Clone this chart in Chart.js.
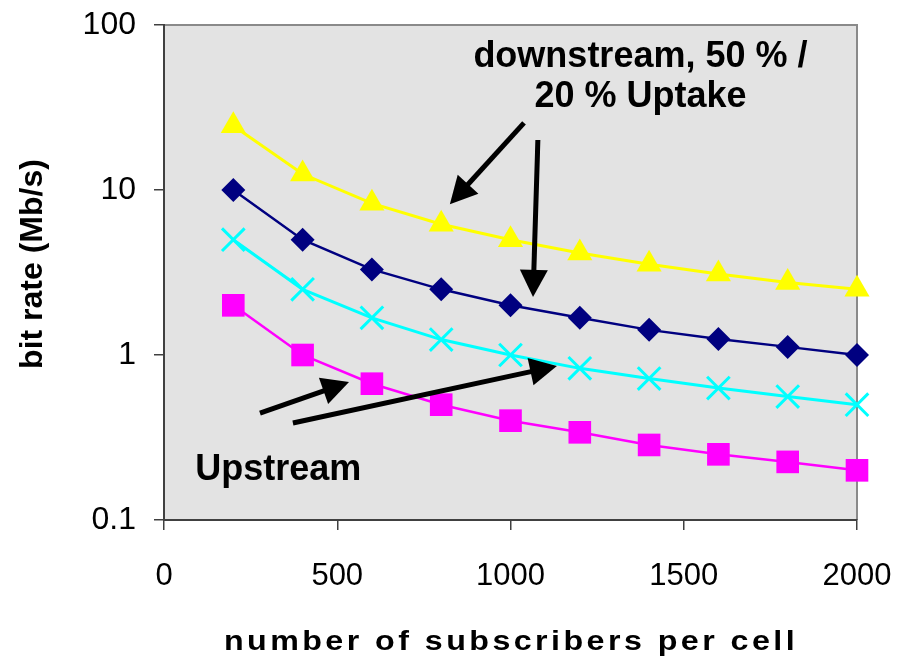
<!DOCTYPE html>
<html>
<head>
<meta charset="utf-8">
<script src="https://cdn.jsdelivr.net/npm/chart.js@4.4.0/dist/chart.umd.min.js"></script>
<style>
  html, body { margin: 0; padding: 0; background: #fff; }
  canvas { display: block; }
</style>
</head>
<body>
<canvas id="chart" width="901" height="662"></canvas>
<script>
// subscribers per cell (x axis)
const subscribers = [200, 400, 600, 800, 1000, 1200, 1400, 1600, 1800, 2000];
// bit rate (Mb/s)
const downstream50 = [24.5, 12.5, 8.3, 6.2, 5.0, 4.15, 3.55, 3.1, 2.75, 2.5];
const downstream20 = [10, 5.0, 3.3, 2.5, 2.0, 1.68, 1.42, 1.25, 1.12, 1.0];
const upstream50 = [5.0, 2.5, 1.68, 1.24, 1.0, 0.83, 0.72, 0.63, 0.56, 0.5];
const upstream20 = [2.0, 1.0, 0.67, 0.5, 0.4, 0.34, 0.285, 0.25, 0.225, 0.2];
const xTicks = [0, 500, 1000, 1500, 2000];
const yTicks = [0.1, 1, 10, 100];

const FONT = '"Liberation Sans", Arial, Helvetica, sans-serif';

// annotations, placed in data units
const notes = [
  { text: 'downstream, 50 % /', x: 1375, y: 56, align: 'center' },
  { text: '20 % Uptake', x: 1375, y: 31.8, align: 'center' },
  { text: 'Upstream', x: 90, y: 0.175, align: 'left' }
];
const arrows = [
  { from: [1039, 25.5], to: [825, 8.2] },
  { from: [1079, 20.1], to: [1065, 2.25] },
  { from: [277, 0.445], to: [534, 0.686] },
  { from: [372, 0.387], to: [1134, 0.858] }
];

function series(values) {
  return subscribers.map((x, i) => ({ x: x, y: values[i] }));
}

// gray plot area with thin frame on top/right
const plotBackground = {
  id: 'plotBackground',
  beforeDraw(chart) {
    const { ctx, chartArea: a } = chart;
    ctx.save();
    ctx.fillStyle = '#e3e3e3';
    ctx.fillRect(a.left, a.top, a.right - a.left, a.bottom - a.top);
    ctx.strokeStyle = '#8a8a8a';
    ctx.lineWidth = 2;
    ctx.beginPath();
    ctx.moveTo(a.left, a.top);
    ctx.lineTo(a.right, a.top);
    ctx.lineTo(a.right, a.bottom);
    ctx.stroke();
    ctx.restore();
  }
};

function drawArrow(ctx, x1, y1, x2, y2) {
  const ang = Math.atan2(y2 - y1, x2 - x1);
  const headLen = 27, headHalf = 14;
  const bx = x2 - Math.cos(ang) * headLen;
  const by = y2 - Math.sin(ang) * headLen;
  ctx.beginPath();
  ctx.moveTo(x1, y1);
  ctx.lineTo(bx + Math.cos(ang) * 4, by + Math.sin(ang) * 4);
  ctx.stroke();
  ctx.beginPath();
  ctx.moveTo(x2, y2);
  ctx.lineTo(bx + Math.sin(ang) * headHalf, by - Math.cos(ang) * headHalf);
  ctx.lineTo(bx - Math.sin(ang) * headHalf, by + Math.cos(ang) * headHalf);
  ctx.closePath();
  ctx.fill();
}

const annotations = {
  id: 'annotations',
  afterDatasetsDraw(chart) {
    const { ctx, scales: { x, y } } = chart;
    ctx.save();
    ctx.strokeStyle = '#000';
    ctx.fillStyle = '#000';
    ctx.lineWidth = 5;
    ctx.lineCap = 'butt';
    arrows.forEach(a => {
      drawArrow(ctx,
        x.getPixelForValue(a.from[0]), y.getPixelForValue(a.from[1]),
        x.getPixelForValue(a.to[0]), y.getPixelForValue(a.to[1]));
    });
    ctx.font = 'bold 36px ' + FONT;
    ctx.textBaseline = 'alphabetic';
    notes.forEach(n => {
      ctx.textAlign = n.align;
      ctx.fillText(n.text, x.getPixelForValue(n.x), y.getPixelForValue(n.y));
    });
    ctx.restore();
  },
  afterDraw(chart) {
    const { ctx } = chart;
    ctx.save();
    ctx.fillStyle = '#000';
    // x axis title: wide, spaced-out lettering like the original
    ctx.save();
    ctx.font = 'bold 28px ' + FONT;
    ctx.letterSpacing = '3px';
    ctx.textAlign = 'center';
    ctx.textBaseline = 'alphabetic';
    ctx.translate(511, 650);
    ctx.scale(1.15, 1);
    ctx.fillText('number of subscribers per cell', 0, 0);
    ctx.restore();
    // y axis title
    ctx.letterSpacing = '0px';
    ctx.font = 'bold 32px ' + FONT;
    ctx.translate(33, 264);
    ctx.rotate(-Math.PI / 2);
    ctx.textAlign = 'center';
    ctx.textBaseline = 'middle';
    ctx.fillText('bit rate (Mb/s)', 0, 0);
    ctx.restore();
  }
};

const common = { showLine: true, clip: false, tension: 0, fill: false };

function noScalePadding(s) {
  s.paddingLeft = 0; s.paddingRight = 0; s.paddingTop = 0; s.paddingBottom = 0;
}

new Chart(document.getElementById('chart'), {
  type: 'scatter',
  data: {
    datasets: [
      Object.assign({
        label: 'downstream 50 %',
        data: series(downstream50),
        borderColor: '#ffff00', backgroundColor: '#ffff00',
        borderWidth: 3, pointStyle: 'triangle', pointRadius: 14.5,
        pointBorderWidth: 0
      }, common),
      Object.assign({
        label: 'downstream 20 %',
        data: series(downstream20),
        borderColor: '#000080', backgroundColor: '#000080',
        borderWidth: 2.5, pointStyle: 'rectRot', pointRadius: 12,
        pointBorderWidth: 0
      }, common),
      Object.assign({
        label: 'upstream 50 %',
        data: series(upstream50),
        borderColor: '#00ffff', backgroundColor: '#00ffff',
        borderWidth: 3, pointStyle: 'crossRot', pointRadius: 16,
        pointBorderWidth: 3
      }, common),
      Object.assign({
        label: 'upstream 20 %',
        data: series(upstream20),
        borderColor: '#ff00ff', backgroundColor: '#ff00ff',
        borderWidth: 2.5, pointStyle: 'rect', pointRadius: 16,
        pointBorderWidth: 0
      }, common)
    ]
  },
  options: {
    responsive: false,
    animation: false,
    events: [],
    layout: { autoPadding: false, padding: { top: 25, right: 44, left: 0, bottom: 0 } },
    plugins: { legend: { display: false }, tooltip: { enabled: false } },
    scales: {
      x: {
        type: 'linear',
        min: 0, max: 2000,
        afterBuildTicks: s => { s.ticks = xTicks.map(v => ({ value: v })); },
        afterFit: s => { s.height = 142; noScalePadding(s); },
        grid: { drawOnChartArea: false, tickLength: 10, color: '#404040', lineWidth: 1.5 },
        border: { color: '#404040', width: 2 },
        ticks: {
          color: '#000', padding: 28,
          font: { family: FONT, size: 31 },
          callback: v => String(v)
        }
      },
      y: {
        type: 'logarithmic',
        min: 0.1, max: 100,
        afterBuildTicks: s => { s.ticks = yTicks.map(v => ({ value: v })); },
        afterFit: s => { s.width = 164; noScalePadding(s); },
        grid: { drawOnChartArea: false, tickLength: 10, color: '#404040', lineWidth: 1.5 },
        border: { color: '#404040', width: 2 },
        ticks: {
          color: '#000', padding: 18,
          font: { family: FONT, size: 32 },
          callback: v => String(v)
        }
      }
    }
  },
  plugins: [plotBackground, annotations]
});
</script>
</body>
</html>
